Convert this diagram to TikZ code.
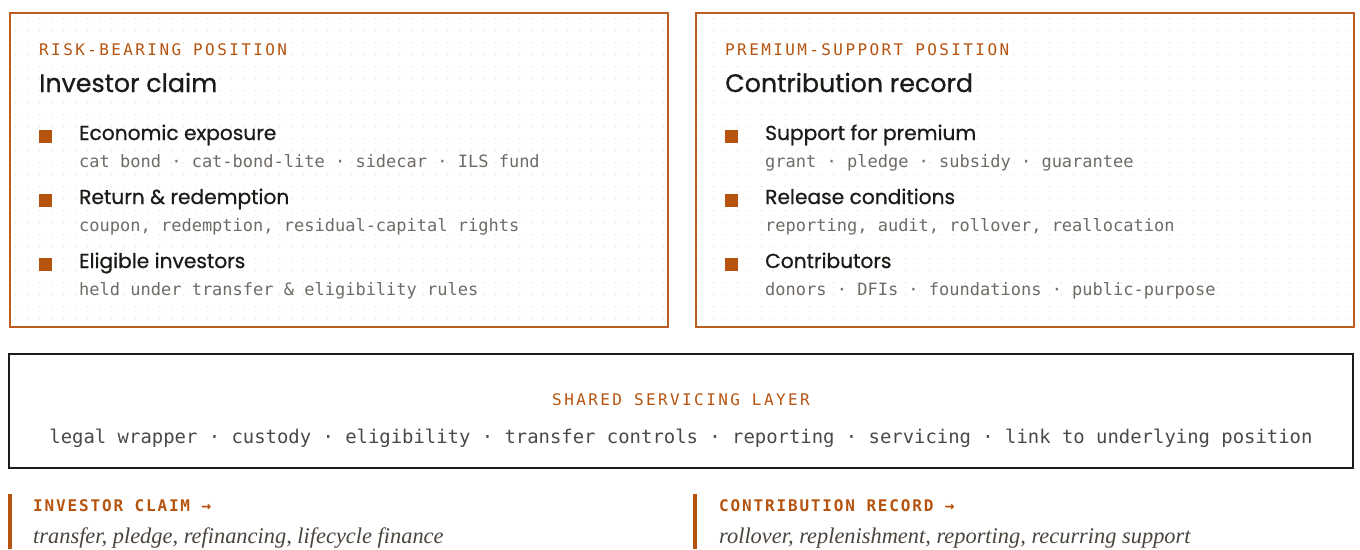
\documentclass[tikz,border=0pt]{standalone}
\usepackage{fontspec}
\setmainfont{Liberation Serif}
\setsansfont{Poppins}[FakeBold=0.8]
\setmonofont{DejaVu Sans Mono}
\newfontfamily\capsmono[LetterSpace=15]{DejaVu Sans Mono}
\newfontfamily\tagmono[LetterSpace=11.5]{DejaVu Sans Mono}
\usepackage{xcolor}
\definecolor{rust}{HTML}{B5530F}
\definecolor{rustline}{HTML}{BC5E22}
\definecolor{ink}{HTML}{1D1B18}
\definecolor{slate}{HTML}{6E6A66}
\definecolor{prose}{HTML}{4A443D}
\definecolor{dotc}{HTML}{F4E6DB}

\begin{document}
\begin{tikzpicture}[x=1pt,y=-1pt,line cap=round,
  panel/.style={draw=rustline,line width=2pt,anchor=north west,inner sep=0pt,
    minimum width=658pt,minimum height=314pt},
  layer/.style={draw=ink,line width=2pt,inner sep=0pt,
    minimum width=1344pt,minimum height=114pt},
  kicker/.style={anchor=base west,inner sep=0pt,text=rust,font=\capsmono\fontsize{16}{18}\selectfont},
  head/.style={anchor=base west,inner sep=0pt,text=ink,font=\sffamily\fontsize{25.3}{30}\selectfont},
  item/.style={anchor=base west,inner sep=0pt,text=ink,font=\sffamily\fontsize{20.2}{24}\selectfont},
  detail/.style={anchor=base west,inner sep=0pt,text=slate,font=\ttfamily\fontsize{17}{20}\selectfont},
  bullet/.style={fill=rust,anchor=north west,inner sep=0pt,minimum size=13pt},
  tag/.style={anchor=base west,inner sep=0pt,text=rust,font=\tagmono\bfseries\fontsize{16}{18}\selectfont},
  note/.style={anchor=base west,inner sep=0pt,text=prose,font=\itshape\fontsize{22.4}{26}\selectfont}]
\useasboundingbox (0,0) rectangle (1360,549);

% dotted paper behind the two position cards
\foreach \xo in {15.3,701.3}
  \foreach \i in {0,...,54}
    \foreach \j in {0,...,25}
      \fill[dotc] (\xo+12*\i,18.7+12*\j) circle (0.9pt);

% risk-bearing side
\node[panel] (claim) at (9,12) {};
\node[kicker] (claimkick) at (39,55) {RISK-BEARING POSITION};
\node[head] (claimhead) at (39,92) {Investor claim};
\node[bullet] (claimsqa) at (39,130) {};
\node[item] (claimitema) at (79,140) {Economic exposure};
\node[detail] (claimdeta) at (79,167) {cat bond · cat-bond-lite · sidecar · ILS fund};
\node[bullet] (claimsqb) at (39,194) {};
\node[item] (claimitemb) at (79,204) {Return \& redemption};
\node[detail] (claimdetb) at (79,231) {coupon, redemption, residual-capital rights};
\node[bullet] (claimsqc) at (39,258) {};
\node[item] (claimitemc) at (79,268) {Eligible investors};
\node[detail] (claimdetc) at (79,295) {held under transfer \& eligibility rules};

% premium-support side
\node[panel] (record) at (695,12) {};
\node[kicker] (recordkick) at (725,55) {PREMIUM-SUPPORT POSITION};
\node[head] (recordhead) at (725,92) {Contribution record};
\node[bullet] (recordsqa) at (725,130) {};
\node[item] (recorditema) at (765,140) {Support for premium};
\node[detail] (recorddeta) at (765,167) {grant · pledge · subsidy · guarantee};
\node[bullet] (recordsqb) at (725,194) {};
\node[item] (recorditemb) at (765,204) {Release conditions};
\node[detail] (recorddetb) at (765,231) {reporting, audit, rollover, reallocation};
\node[bullet] (recordsqc) at (725,258) {};
\node[item] (recorditemc) at (765,268) {Contributors};
\node[detail] (recorddetc) at (765,295) {donors · DFIs · foundations · public-purpose};

% shared servicing layer
\node[layer] (shared) at (681,411) {};
\node[kicker,anchor=base] (sharedkick) at (681,405.5) {SHARED SERVICING LAYER};
\node[detail,anchor=base,text=ink!80,font=\ttfamily\fontsize{18.9}{22}\selectfont] (sharedlist) at (681,443)
  {legal wrapper · custody · eligibility · transfer controls · reporting · servicing · link to underlying position};

% follow-on uses
\fill[rust] (8,494) rectangle (12,549);
\node[tag] (claimtag) at (33,511.5) {INVESTOR CLAIM →};
\node[note] (claimnote) at (33,543) {transfer, pledge, refinancing, lifecycle finance};
\fill[rust] (693,494) rectangle (697,549);
\node[tag] (recordtag) at (719,511.5) {CONTRIBUTION RECORD →};
\node[note] (recordnote) at (719,543) {rollover, replenishment, reporting, recurring support};
\end{tikzpicture}
\end{document}
